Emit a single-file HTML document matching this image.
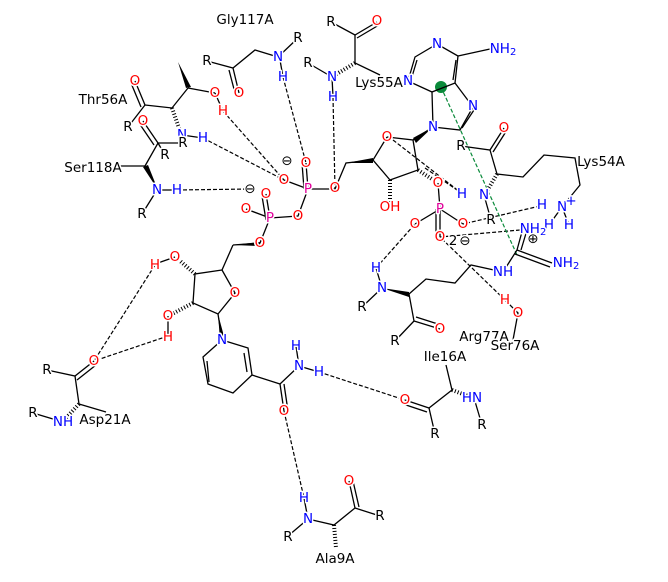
<!DOCTYPE html>
<html><head><meta charset="utf-8"><style>
html,body{margin:0;padding:0;background:#fff}
svg{display:block}
text{font-family:"DejaVu Sans","Liberation Sans",sans-serif;font-size:13.5px;text-anchor:middle;dominant-baseline:central;stroke:#fff;stroke-width:3;paint-order:stroke;stroke-linejoin:round}
.b{fill:#000}.o{fill:#f00}.n{fill:#00f}.p{fill:#e0009a}
.l{stroke:#000;stroke-width:1.3;fill:none}
.d{stroke:#000;stroke-width:1.2;stroke-dasharray:4 2;fill:none}
.h{stroke:#000;stroke-width:4;stroke-dasharray:1 2;fill:none}
.g{stroke:#0a8a3a;stroke-width:1.2;stroke-dasharray:4 2;fill:none}
</style></head><body>
<svg width="668" height="582" viewBox="0 0 668 582" xmlns="http://www.w3.org/2000/svg">
<g class="d">
<path d="M223,111 L284,180"/><path d="M203,138 L284,180"/>
<path d="M283,77 L306,163"/><path d="M333,97 L335,189"/>
<path d="M177,190 L250,189"/>
<path d="M393,140 L460,192"/><path d="M425,168 L460,192"/>
<path d="M540,206 L463,224"/><path d="M520,230 L440,237"/>
<path d="M376,268 L415,224"/><path d="M505,300 L440,237"/>
<path d="M155,265 L94,361"/><path d="M168,336 L94,361"/>
<path d="M319,372 L405,400"/><path d="M284,411 L304,498"/>
</g>
<path class="g" d="M441,87 L517,255"/>
<circle cx="441" cy="87" r="6" fill="#0a8a3a"/>
<g class="l">
<path d="M207,61 L233,68 L255,50 L278,57 L298,38"/><path d="M233,68 L239,93"/><path d="M229,70 L235,93"/><path d="M280,60 L283,77"/>
<path d="M188,88 L215,93"/><path d="M215,93 L223,111"/><path d="M188,88 L172,108 L145,105"/><path d="M145,105 L135,81"/><path d="M141,107 L131,83"/><path d="M145,105 L128,127"/>
<path d="M182,135 L203,138"/>
<path d="M145,166 L158,143 L183,143"/><path d="M158,143 L143,121"/><path d="M154,145 L139,123"/><path d="M158,143 L165,155"/><path d="M145,166 L118,166"/>
<path d="M157,190 L177,190"/><path d="M157,190 L142,214"/>
<path d="M331,22 L355,35 L377,22"/><path d="M357,38 L379,25"/><path d="M355,35 L355,63 L380,75"/><path d="M332,77 L308,63"/><path d="M332,77 L333,97"/>
<path d="M306,163 L308,189 L284,180"/><path d="M302,163 L304,189"/><path d="M308,189 L335,189 L346,163 L373,160"/><path d="M308,189 L298,216 L270,218 L246,209"/><path d="M270,218 L266,194"/><path d="M266,220 L262,196"/><path d="M270,218 L260,243 L233,245"/>
<path d="M387,137 L373,160 L390,180 L418,170 L413,140 L387,137"/><path d="M413,140 L433,127"/>
<path d="M433,127 L460,130 L473,107 L455,83 L432,92 L433,127"/><path d="M432,92 L408,81 L415,57 L437,44 L458,56 L455,83"/><path d="M458,56 L490,49"/><path d="M462,128 L474,110"/><path d="M456,60 L453,80"/><path d="M411,80 L417,60"/>
<path d="M461,146 L490,150 L504,128"/><path d="M493,152 L507,130"/><path d="M490,150 L497,174 L523,177 L544,155 L575,158 L580,185 L562,207"/><path d="M484,195 L491,220"/><path d="M562,207 L549,225"/><path d="M562,207 L569,225"/>
<path d="M438,183 L440,209 L415,224"/><path d="M440,209 L463,224"/><path d="M440,209 L440,237"/><path d="M436,209 L436,237"/>
<path d="M382,288 L362,307"/><path d="M376,268 L382,288"/><path d="M409,294 L426,279 L455,283 L471,265 L503,272"/><path d="M409,294 L414,321 L395,341"/><path d="M414,321 L440,329"/><path d="M416,317 L441,325"/>
<path d="M503,272 L517,250 L523,228"/><path d="M517,250 L552,263"/><path d="M515,254 L550,267"/><path d="M521,250 L527,230"/>
<path d="M505,300 L518,313 L513,340"/>
<path d="M222,270 L235,293 L218,314 L193,303 L195,274 L222,270"/><path d="M222,270 L233,245"/><path d="M175,257 L155,264"/><path d="M168,316 L168,336"/><path d="M218,314 L222,340"/>
<path d="M222,340 L248,348 L252,375 L233,393 L208,384 L203,357 L222,340"/><path d="M244,353 L247,372"/><path d="M209,382 L207,361"/><path d="M252,375 L280,384 L299,366"/><path d="M280,384 L284,411"/><path d="M284,384 L288,411"/><path d="M299,366 L296,346"/><path d="M299,366 L319,372"/>
<path d="M47,370 L75,376 L94,361"/><path d="M77,380 L96,365"/><path d="M75,376 L79,404 L106,412"/><path d="M63,422 L33,413"/>
<path d="M446,365 L452,390 L429,408 L405,400"/><path d="M427,412 L403,404"/><path d="M429,408 L435,434"/><path d="M474,398 L482,425"/>
<path d="M304,498 L308,519 L288,536"/><path d="M308,519 L334,525 L355,508 L349,481"/><path d="M359,507 L353,481"/><path d="M355,508 L380,516"/>
</g>
<g class="h">
<path d="M172,108 L180,131"/><path d="M355,63 L335,75"/><path d="M418,170 L435,181"/><path d="M390,180 L390,202"/><path d="M497,174 L487,191"/><path d="M195,274 L179,260"/><path d="M193,303 L172,314"/><path d="M79,404 L66,418"/><path d="M452,390 L468,396"/><path d="M334,525 L336,548"/>
</g>
<g fill="#000">
<polygon points="178,62 186,88 191,87"/>
<polygon points="158,190 143,167 148,165"/>
<polygon points="346,163 373,158 373,163"/>
<polygon points="433,127 413,138 416,143"/>
<polygon points="233,245 260,242 260,246"/>
<polygon points="218,314 220,340 225,340"/>
<polygon points="382,288 409,292 409,297"/>
</g>
<text x="245" y="20" class="b">Gly117A</text>
<text x="103" y="100" class="b">Thr56A</text>
<text x="93" y="168" class="b">Ser118A</text>
<text x="379" y="83" class="b">Lys55A</text>
<text x="601" y="162" class="b">Lys54A</text>
<text x="484" y="337" class="b">Arg77A</text>
<text x="515" y="346" class="b">Ser76A</text>
<text x="445" y="357" class="b">Ile16A</text>
<text x="105" y="420" class="b">Asp21A</text>
<text x="335" y="559" class="b">Ala9A</text>
<text x="207" y="61" class="b">R</text><text x="239" y="93" class="o">O</text><text x="278" y="57" class="n">N</text><text x="298" y="38" class="b">R</text><text x="283" y="77" class="n">H</text>
<text x="215" y="93" class="o">O</text><text x="223" y="111" class="o">H</text><text x="135" y="81" class="o">O</text><text x="128" y="127" class="b">R</text><text x="182" y="135" class="n">N</text><text x="203" y="138" class="n">H</text><text x="183" y="143" class="b">R</text>
<text x="143" y="121" class="o">O</text><text x="165" y="155" class="b">R</text><text x="157" y="190" class="n">N</text><text x="177" y="190" class="n">H</text><text x="142" y="214" class="b">R</text>
<text x="331" y="22" class="b">R</text><text x="377" y="21" class="o">O</text><text x="332" y="77" class="n">N</text><text x="308" y="63" class="b">R</text><text x="333" y="97" class="n">H</text>
<text x="306" y="163" class="o">O</text><text x="284" y="180" class="o">O</text><text x="308" y="189" class="p">P</text><text x="335" y="188" class="o">O</text><text x="298" y="216" class="o">O</text><text x="270" y="218" class="p">P</text><text x="246" y="209" class="o">O</text><text x="266" y="194" class="o">O</text><text x="260" y="243" class="o">O</text>
<text x="287" y="161" class="b" font-size="16">⊖</text><text x="250" y="189" class="b" font-size="16">⊖</text>
<text x="387" y="137" class="o">O</text><text x="390" y="207" class="o">OH</text><text x="438" y="183" class="o">O</text>
<text x="433" y="127" class="n">N</text><text x="473" y="106" class="n">N</text><text x="408" y="81" class="n">N</text><text x="437" y="44" class="n">N</text><text x="503" y="49" class="n">NH<tspan dy="3" font-size="10">2</tspan></text>
<text x="461" y="146" class="b">R</text><text x="504" y="128" class="o">O</text><text x="484" y="195" class="n">N</text><text x="462" y="194" class="n">H</text><text x="491" y="220" class="b">R</text>
<text x="562" y="207" class="n">N</text><text x="571" y="201" class="n" font-size="11">+</text><text x="542" y="205" class="n">H</text><text x="549" y="225" class="n">H</text><text x="569" y="225" class="n">H</text>
<text x="440" y="209" class="p">P</text><text x="415" y="224" class="o">O</text><text x="463" y="224" class="o">O</text><text x="440" y="237" class="o">O</text><text x="453" y="241" class="b" font-size="10">2</text><text x="465" y="241" class="b" font-size="16">⊖</text>
<text x="533" y="229" class="n">NH<tspan dy="3" font-size="10">2</tspan></text><text x="566" y="263" class="n">NH<tspan dy="3" font-size="10">2</tspan></text><text x="503" y="272" class="n">NH</text><text x="533" y="239" class="b" font-size="16">⊕</text>
<text x="376" y="268" class="n">H</text><text x="382" y="288" class="n">N</text><text x="362" y="307" class="b">R</text><text x="440" y="329" class="o">O</text><text x="395" y="341" class="b">R</text>
<text x="505" y="300" class="o">H</text><text x="518" y="313" class="o">O</text>
<text x="175" y="257" class="o">O</text><text x="155" y="265" class="o">H</text><text x="168" y="316" class="o">O</text><text x="168" y="337" class="o">H</text><text x="235" y="293" class="o">O</text>
<text x="222" y="340" class="n">N</text><text x="284" y="411" class="o">O</text><text x="299" y="366" class="n">N</text><text x="296" y="346" class="n">H</text><text x="319" y="372" class="n">H</text>
<text x="94" y="361" class="o">O</text><text x="47" y="370" class="b">R</text><text x="63" y="422" class="n">NH</text><text x="33" y="413" class="b">R</text>
<text x="405" y="400" class="o">O</text><text x="435" y="434" class="b">R</text><text x="472" y="398" class="n">HN</text><text x="482" y="425" class="b">R</text>
<text x="304" y="498" class="n">H</text><text x="308" y="519" class="n">N</text><text x="288" y="537" class="b">R</text><text x="349" y="481" class="o">O</text><text x="380" y="516" class="b">R</text>
</svg>
</body></html>
